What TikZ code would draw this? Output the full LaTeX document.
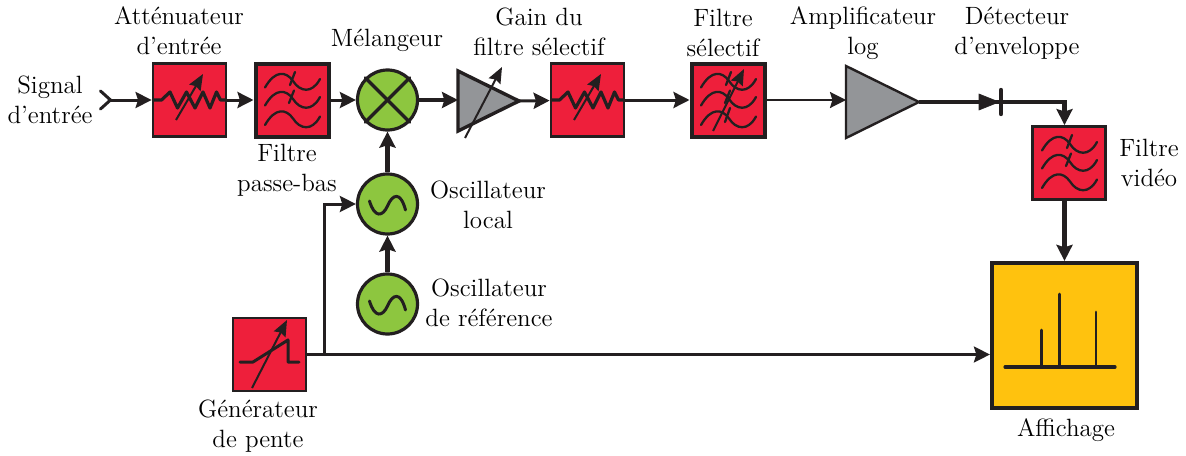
\documentclass[tikz,border=0pt]{standalone}
\usepackage{amsmath}
\usetikzlibrary{arrows.meta,shapes.geometric}

\definecolor{rouge}{HTML}{EE1F3B}
\definecolor{vert}{HTML}{8DC63F}
\definecolor{gris}{HTML}{939598}
\definecolor{jaune}{HTML}{FFC20E}
\definecolor{noir}{HTML}{231F20}

\tikzset{
    boite/.style={draw=noir,fill=rouge,line width=1.4pt,minimum size=36.5pt,inner sep=0},
    osc/.style={circle,draw=noir,fill=vert,line width=1.6pt,minimum size=30pt,inner sep=0},
    ampli/.style={isosceles triangle,isosceles triangle stretches,draw=noir,fill=gris,line width=1.7pt,inner sep=0,outer sep=0,anchor=apex},
    texte/.style={align=center,text=black,font=\fontsize{12.5}{15}\selectfont},
    fil/.style={draw=noir,line width=1.5pt,-{Stealth[length=8pt,width=8pt,inset=1.2pt]}},
    filgras/.style={fil,line width=2.1pt},
    fleche/.style={draw=noir,line width=1pt,-{Stealth[length=8pt,width=6.5pt,inset=1pt]}},
    trait/.style={draw=noir,line width=1.15pt,line cap=round},
    ondes/.pic={
        \foreach \dy in {0,18,37.5}
            \draw[trait] (-27,-12.5+\dy) .. controls (-17,-30+\dy) and (-6,-29+\dy) .. (1,-19+\dy)
                .. controls (8,-8+\dy) and (20,-6+\dy) .. (28,-21+\dy);
        \draw[trait] (3,-28) -- (-2,-15);
        \draw[trait] (2,-9.5) -- (-3,3);
    },
    resist/.pic={
        \draw[draw=noir,line width=1.6pt,line join=round]
            (-37,0) -- (-28,0) -- (-19.5,-8) -- (-12,8) -- (-3,-8) -- (5.5,8)
            -- (13.5,-8) -- (20.5,8) -- (27,-8) -- (31,0) -- (37,0);
        \draw[fleche] (-13.5,20) -- (13.5,-26);
    },
    sinus/.pic={
        \draw[draw=noir,line width=1.5pt,line cap=round] (-18,-3) .. controls (-13,14) and (-5,13) .. (0,2)
            .. controls (5,-10) and (13,-13) .. (18,6);
    }
}

\begin{document}
\begin{tikzpicture}[x=0.5pt,y=-0.5pt]
    \useasboundingbox (0,0) rectangle (1186,455);

    % chaine du haut
    \coordinate (entree) at (110.5,100);
    \node[boite] (att) at (189.5,100) {};
    \node[boite,line width=2pt] (lpf) at (292,100) {};
    \node[osc] (mel) at (387.5,100) {};
    \node[ampli,minimum width=30pt,minimum height=30.5pt] (gain) at (519,101) {};
    \node[boite] (att2) at (587.5,100) {};
    \node[boite,line width=2pt] (sel) at (728,100) {};
    \node[ampli,line width=1.2pt,minimum width=36pt,minimum height=36.5pt] (log) at (919,102) {};
    \node[ampli,fill=noir,line width=.3pt,minimum width=8pt,minimum height=10pt] (diode) at (999,102) {};
    \node[boite] (video) at (1069,163) {};

    % oscillateurs et rampe
    \node[osc] (ol) at (387.5,204) {};
    \node[osc] (ref) at (387.5,304) {};
    \node[boite] (pente) at (269.5,354.5) {};
    \node[draw=noir,fill=jaune,line width=2.1pt,minimum size=72.5pt,inner sep=0] (aff) at (1064.5,335.5) {};

    \pic at (att) {resist};
    \pic at (att2) {resist};
    \pic at (lpf) {ondes};
    \pic at (sel) {ondes};
    \pic at (video) {ondes};
    \pic at (ol) {sinus};
    \pic at (ref) {sinus};

    \draw[line width=1.6pt,draw=noir,line cap=round] (mel.north west) -- (mel.south east);
    \draw[line width=1.6pt,draw=noir,line cap=round] (mel.north east) -- (mel.south west);
    \draw[fleche] (465,138) -- (502,67);
    \draw[fleche] (713,131) -- (744,69);
    \draw[trait] (730,108) -- (725,122);

    % rampe
    \draw[draw=noir,line width=1.5pt,line cap=round,line join=round] (240,362) -- (253,362) -- (288,340) -- (288,362) -- (299,362);
    \draw[fleche] (252,388) -- (287,320);

    % affichage
    \draw[draw=noir,line width=1.6pt,line cap=round] (1005,367) -- (1115,367);
    \draw[trait,line width=1.4pt] (1041.5,367) -- (1041.5,330);
    \draw[trait,line width=1.4pt] (1059.5,367) -- (1059.5,294);
    \draw[trait,line width=1.4pt] (1096,367) -- (1096,312);

    % liaisons
    \draw[trait,line width=1.5pt] (100.5,91) -- (entree) -- (100.5,109);
    \path[fil] (entree) -- (att);
    \path[fil] (att) -- (lpf);
    \path[fil] (lpf) -- (mel);
    \path[filgras] (mel.east) -- (mel.east -| gain.west);
    \path[fil] (gain.apex) -- (att2);
    \path[fil] (att2) -- (sel);
    \path[fil,line width=1.2pt] (sel.east) -- (sel.east -| log.west);
    \draw[draw=noir,line width=2pt] (log.apex) -- (diode.apex);
    \draw[draw=noir,line width=2.2pt,line cap=round] (1001,90) -- (1001,114);
    \path[filgras] (diode.apex) -| (video.north -| aff.north);
    \path[filgras] (video.south -| aff.north) -- (aff.north);
    \path[filgras] (ol) -- (mel);
    \path[filgras] (ref) -- (ol);
    \path[fil,line width=1.3pt] (pente.east) -- (aff.west |- pente.east);
    \path[fil] (324,353) |- (ol);

    \node[texte] (t1) at (50,100) {Signal\\d’entrée};
    \node[texte] (t2) at (179,31) {Atténuateur\\d’entrée};
    \node[texte] (t3) at (287,170) {Filtre\\passe-bas};
    \node[texte] (t4) at (387,40) {Mélangeur};
    \node[texte] (t5) at (539,32) {Gain du\\filtre sélectif};
    \node[texte] (t6) at (723,33) {Filtre\\sélectif};
    \node[texte] (t7) at (863,33) {Amplificateur\\log};
    \node[texte] (t8) at (1017,33) {Détecteur\\d’enveloppe};
    \node[texte] (t9) at (1149,163) {Filtre\\vidéo};
    \node[texte] (t10) at (488,205) {Oscillateur\\local};
    \node[texte] (t11) at (489,303) {Oscillateur\\de référence};
    \node[texte] (t12) at (258,426) {Générateur\\de pente};
    \node[texte] (t13) at (1066,430) {Affichage};

\end{tikzpicture}
\end{document}
